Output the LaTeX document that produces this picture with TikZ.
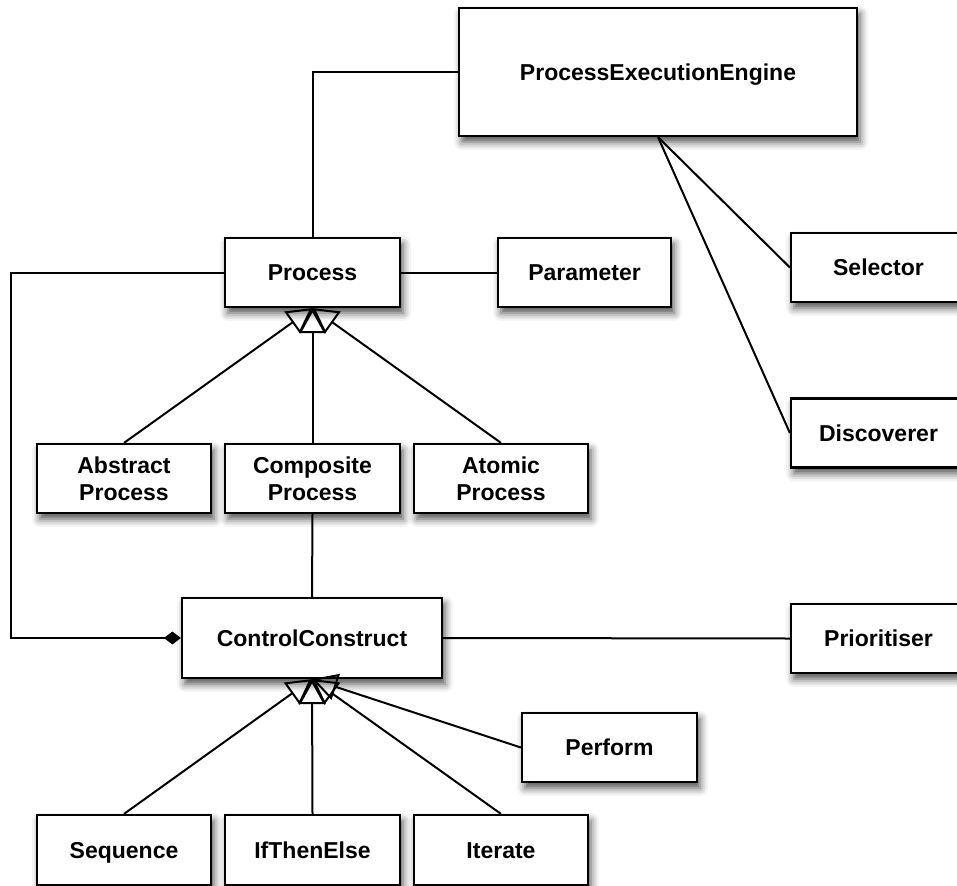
\documentclass[tikz,border=0pt]{standalone}
\usepackage{fontspec}
\setmainfont{Liberation Sans}
\usetikzlibrary{arrows.meta,shadows.blur}
\begin{document}
\begin{tikzpicture}[x=1pt,y=-1pt,
  cls/.style={draw=black, line width=2.2pt, fill=white,
    blur shadow={shadow xshift=3pt, shadow yshift=-6pt,
      shadow blur radius=8pt, shadow opacity=70},
    font=\fontsize{23}{27}\selectfont\bfseries,
    align=center, inner sep=0pt,
    minimum width=175pt, minimum height=69pt},
  one/.style={text height=18.4pt, text depth=2.3pt},
  link/.style={line width=2pt},
  gen/.style={link, -{Triangle[open, length=25pt, width=27pt]}},
  comp/.style={link, -{Diamond[length=17pt, width=13pt]}}]
\useasboundingbox (0,0) rectangle (957,885);
\clip (0,0) rectangle (957,885);

% classes
\node[cls, one, minimum width=398pt, minimum height=128pt] (pee) at (658,72) {ProcessExecutionEngine};
\node[cls, one] (process) at (312.5,272.5) {Process};
\node[cls, one, minimum width=173pt] (param) at (584.5,272.5) {Parameter};
\node[cls, one] (selector) at (878.5,267.5) {Selector};
\node[cls, one] (discoverer) at (878.5,433) {Discoverer};
\node[cls, minimum width=174pt] (abstract) at (124,478.5) {Abstract\\Process};
\node[cls] (composite) at (312.5,478.5) {Composite\\Process};
\node[cls, minimum width=174pt] (atomic) at (501,478.5) {Atomic\\Process};
\node[cls, one, minimum width=260pt, minimum height=80pt] (cc) at (312,638) {ControlConstruct};
\node[cls, one] (prior) at (878.5,638.5) {Prioritiser};
\node[cls, one] (perform) at (609.5,747.5) {Perform};
\node[cls, one, minimum width=174pt, minimum height=70pt] (sequence) at (124,850) {Sequence};
\node[cls, one, minimum height=70pt] (ifte) at (312.5,850) {IfThenElse};
\node[cls, one, minimum width=174pt, minimum height=70pt] (iterate) at (501,850) {Iterate};

% associations
\draw[link] (process.north) |- (pee.west);
\draw[link] (process.east) -- (param.west);
\draw[link] (pee.south) -- (selector.west);
\draw[link] (pee.south) -- (discoverer.west);
\draw[link] (composite.south) -- (cc.north);
\draw[link] (cc.east) -- (prior.west);
\draw[comp] (process.west) -- ++(-213,0) |- (cc.west);

% generalisations
\draw[gen] (abstract.north) -- (process.south);
\draw[gen] (composite.north) -- (process.south);
\draw[gen] (atomic.north) -- (process.south);
\draw[gen] (sequence.north) -- (cc.south);
\draw[gen] (ifte.north) -- (cc.south);
\draw[gen] (iterate.north) -- (cc.south);
\draw[gen] (perform.west) -- (cc.south);
\end{tikzpicture}
\end{document}
